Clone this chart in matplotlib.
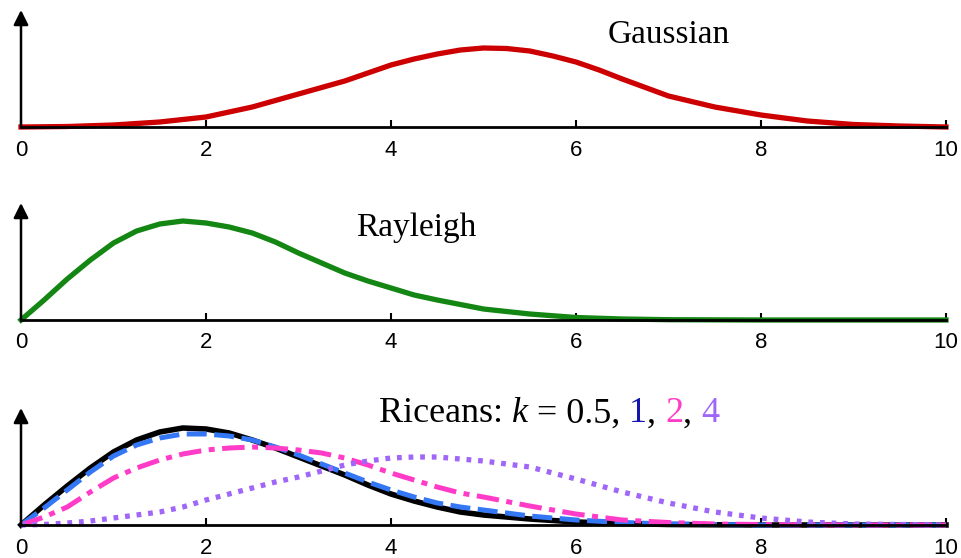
import matplotlib.pyplot as plt

# values (curve heights in pixels above each baseline)
gx = [0, 0.5, 1, 1.5, 2, 2.5, 3, 3.5, 3.75, 4, 4.25, 4.5, 4.75, 5, 5.25, 5.5, 5.75,
      6, 6.25, 6.5, 7, 7.5, 8, 8.5, 9, 9.5, 10]
gauss = [0, 0.5, 2, 5, 10, 20, 33, 46, 54, 62, 68, 73, 77, 79, 78.5, 76, 71,
         65, 57, 48, 31, 20, 12, 6, 2.5, 1, 0]

rx = [0, 0.25, 0.5, 0.75, 1, 1.25, 1.5, 1.75, 2, 2.25, 2.5, 2.75, 3, 3.25, 3.5, 3.75,
      4, 4.25, 4.5, 5, 5.5, 6, 6.5, 7, 8, 9, 10]
rayleigh = [0, 20, 41, 60, 77, 89, 96, 99, 97, 93, 87, 78, 67, 57, 47, 39,
            32, 25, 20, 11, 6, 2.5, 1, 0.3, 0, 0, 0]

kx = [0, 0.25, 0.5, 0.75, 1, 1.25, 1.5, 1.75, 2, 2.25, 2.5, 2.75, 3, 3.25, 3.5, 3.75,
      4, 4.25, 4.5, 4.75, 5, 5.5, 6, 6.5, 7, 7.5, 8, 8.5, 9, 9.5, 10]
k05 = [0, 20, 39, 57, 73, 85, 93, 97, 96, 92, 85, 77, 68, 59, 50, 40,
       31, 24, 18, 13, 10, 6, 3, 1.5, 0.5, 0.2, 0, 0, 0, 0, 0]
k1 = [0, 17, 35, 53, 69, 80, 87, 91, 91, 89, 85, 78, 70, 61, 52, 43,
      35, 28, 22, 18, 15, 9, 5, 2.5, 1, 0.5, 0, 0, 0, 0, 0]
k2 = [0, 8, 18, 33, 47, 57, 65, 71, 75, 77, 78, 77, 75, 72, 67, 60,
      52, 45, 38, 32, 28, 19, 11, 5, 2.5, 1, 0.5, 0.2, 0, 0, 0]
k4 = [0, 0.5, 2, 4, 7, 10, 13, 18, 25, 31, 37, 43, 48, 54, 60, 64,
      67, 68, 68, 66, 64, 58, 46, 33, 22, 13, 7, 3, 1, 0.5, 0]

ticks = [0, 2, 4, 6, 8, 10]

fig = plt.figure(figsize=(9.62, 5.58), dpi=100)

def panel(bottom):
    ax = fig.add_axes([21/962, bottom, 925/962, 117/558])
    ax.set_xlim(0, 10)
    ax.set_ylim(0, 117)
    for s in ['top', 'right', 'left']:
        ax.spines[s].set_visible(False)
    ax.spines['bottom'].set_linewidth(2)
    ax.set_yticks([])
    ax.set_xticks(ticks)
    ax.tick_params(axis='x', direction='in', length=5, width=1.5, pad=9,
                   labelsize=16)
    ax.annotate('', xy=(0, 1), xytext=(0, 0), xycoords='axes fraction',
                arrowprops=dict(arrowstyle='-|>', color='k', lw=1.8,
                                mutation_scale=22, shrinkA=0, shrinkB=0))
    for lab in ax.get_xticklabels():
        lab.set_fontfamily('Liberation Sans')
    return ax

serif = 'Liberation Serif'

ax1 = panel(1 - 127/558)
ax1.plot(gx, gauss, color='#cc0000', lw=3.8, clip_on=False)
ax1.text(7.0, 92, 'Gaussian', fontsize=24, family=serif, ha='center', va='center')

ax2 = panel(1 - 320/558)
ax2.plot(rx, rayleigh, color='#138613', lw=3.8, clip_on=False)
ax2.text(4.27, 92, 'Rayleigh', fontsize=24, family=serif, ha='center', va='center')

ax3 = panel(1 - 525/558)
ax3.plot(kx, k05, color='black', lw=4, clip_on=False)
ax3.plot(kx, k1, color='#3477f5', lw=3.6, dashes=(4, 1.5), clip_on=False)
ax3.plot(kx, k2, color='#ff3cc8', lw=3.6, dashes=(4.5, 1.5, 1.2, 1.5), clip_on=False)
ax3.plot(kx, k4, color='#a066f8', lw=3.8, dashes=(0.9, 1.3), clip_on=False)

# multi-coloured title built piece by piece
parts = [('Riceans: ', 'black', 'normal'), ('k', 'black', 'italic'),
         (' = 0.5, ', 'black', 'normal'), ('1', '#1515b0', 'normal'),
         (', ', 'black', 'normal'), ('2', '#ff3cc8', 'normal'),
         (', ', 'black', 'normal'), ('4', '#a066f8', 'normal')]
fig.canvas.draw()
r = fig.canvas.get_renderer()
xpos = 379 / 962
for txt, col, sty in parts:
    t = fig.text(xpos, 1 - 414/558, txt, fontsize=26, family=serif, style=sty,
                 color=col, ha='left', va='center')
    bb = t.get_window_extent(r)
    xpos += bb.width / fig.bbox.width

fig.savefig('out.png', dpi=100)
